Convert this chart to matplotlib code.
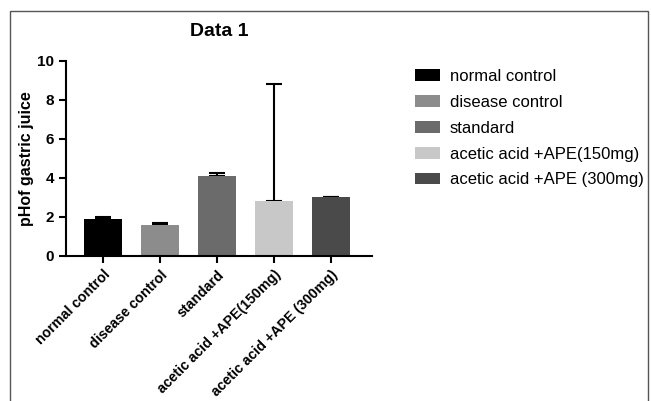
import numpy as np
import matplotlib.pyplot as plt
from matplotlib.patches import Rectangle, Patch

plt.rcParams['font.family'] = ['Liberation Sans', 'DejaVu Sans']

groups = ['normal control', 'disease control', 'standard',
          'acetic acid +APE(150mg)', 'acetic acid +APE (300mg)']
means = [1.9, 1.6, 4.1, 2.8, 3.0]
err_up = [0.1, 0.1, 0.15, 6.0, 0.05]
colors = ['#000000', '#8c8c8c', '#6b6b6b', '#c8c8c8', '#4a4a4a']

fig = plt.figure(figsize=(6.51, 4.01), dpi=100)
ax = fig.add_axes([0.1014, 0.3616, 0.4696, 0.4864])

x = np.arange(len(groups))
ax.bar(x, means, width=0.67, color=colors, zorder=2)
ax.errorbar(x, means, yerr=[np.zeros(len(means)), err_up], fmt='none',
            ecolor='black', elinewidth=1.5, capsize=6, capthick=1.5, zorder=1)

ax.set_xlim(-0.65, 4.72)
ax.set_ylim(0, 10)
ax.set_yticks([0, 2, 4, 6, 8, 10])
ax.set_xticks(x)
ax.set_xticklabels(groups, rotation=45, ha='right', rotation_mode='anchor',
                   fontsize=10.2, fontweight='bold')
for lab in ax.get_yticklabels():
    lab.set_fontweight('bold')
    lab.set_fontsize(11)
ax.tick_params(direction='out', length=5, width=1.5)
ax.spines['top'].set_visible(False)
ax.spines['right'].set_visible(False)
ax.spines['left'].set_linewidth(1.5)
ax.spines['bottom'].set_linewidth(1.5)
ax.set_ylabel('pHof gastric juice', fontsize=11.5, fontweight='bold', labelpad=2)
ax.set_title('Data 1', fontsize=14, fontweight='bold', pad=18)

handles = [Patch(facecolor=c, edgecolor='none') for c in colors]
fig.legend(handles, groups, loc='upper left', bbox_to_anchor=(0.614, 0.865),
           frameon=False, fontsize=12, handlelength=1.5, handleheight=0.7,
           handletextpad=0.6, labelspacing=0.65)

fig.patches.append(Rectangle((0.0155, -0.1), 0.98, 1.0726, transform=fig.transFigure,
                             fill=False, edgecolor='#555555', linewidth=1))

fig.savefig('out.png', dpi=100)
